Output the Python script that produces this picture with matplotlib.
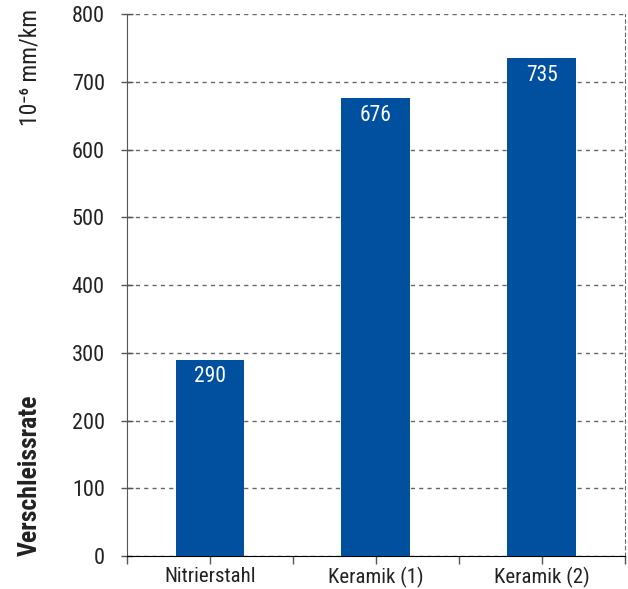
import matplotlib
matplotlib.use('Agg')
import matplotlib.pyplot as plt
import numpy as np

materials = ['Nitrierstahl', 'Keramik (1)', 'Keramik (2)']
wear_rate = [290, 676, 735]
y_ticks = [0, 100, 200, 300, 400, 500, 600, 700, 800]

plt.rcParams['font.family'] = ['Roboto Condensed', 'Liberation Sans Narrow', 'Roboto', 'DejaVu Sans']

fig = plt.figure(figsize=(6.28, 5.89), dpi=100)
ax = fig.add_axes([0.2022, 0.056, 0.7928, 0.92])

x = np.arange(len(materials))
bars = ax.bar(x, wear_rate, width=0.415, color='#0050a0', zorder=3)

for rect, val in zip(bars, wear_rate):
    ax.annotate(str(val), (rect.get_x() + rect.get_width() / 2, val),
                xytext=(0, -12.5), textcoords='offset points',
                ha='center', va='center', color='white', fontsize=15.5, zorder=4)

ax.set_xlim(-0.5, len(materials) - 0.5)
ax.set_ylim(0, 800)
ax.set_yticks(y_ticks)
ax.set_yticklabels([str(t) for t in y_ticks], fontsize=16, color='#222222')
ax.set_xticks(x)
ax.set_xticklabels(materials, fontsize=15, color='#222222')
ax.set_xticks(np.arange(len(materials) + 1) - 0.5, minor=True)

ax.grid(axis='y', linestyle=(0, (3, 3)), color='#666666', linewidth=1, zorder=0)
ax.tick_params(axis='y', direction='inout', length=8, width=1, color='#555555', pad=12)
ax.tick_params(axis='x', which='both', direction='out', length=6, width=1, color='#555555', pad=2)

ax.spines['top'].set_visible(False)
ax.spines['right'].set_linestyle((0, (3, 3)))
ax.spines['right'].set_color('#666666')
ax.spines['left'].set_color('#555555')
ax.spines['bottom'].set_color('black')

fig.text(0.048, 0.886, '10\u207b\u2076 mm/km', rotation=90, ha='center', va='center',
         fontsize=17, color='#222222')
fig.text(0.048, 0.193, 'Verschleissrate', rotation=90, ha='center', va='center',
         fontsize=18.5, fontweight='bold', color='#222222')

fig.savefig('out.png', dpi=100)
